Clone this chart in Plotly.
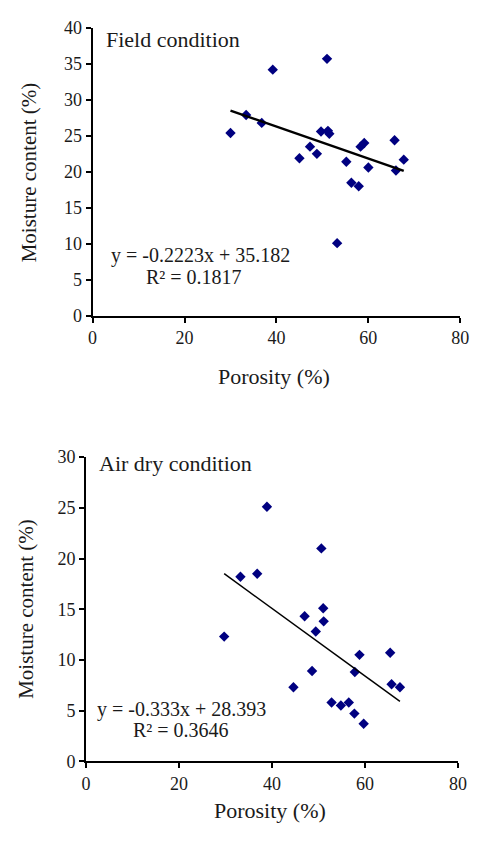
import plotly.graph_objects as go

# ---------------- data ----------------
field_porosity = [30.0, 33.4, 36.8, 39.2, 45.0, 47.3, 48.8, 49.7, 51.0, 51.2, 51.5,
                  53.2, 55.2, 56.3, 57.9, 58.3, 59.1, 60.0, 65.7, 66.0, 67.7]
field_moisture = [25.4, 27.9, 26.8, 34.2, 21.9, 23.5, 22.5, 25.6, 35.7, 25.7, 25.3,
                  10.1, 21.4, 18.5, 18.0, 23.5, 24.0, 20.6, 24.4, 20.2, 21.7]
field_slope, field_intercept = -0.2223, 35.182
field_eq = "y = -0.2223x + 35.182"
field_r2 = "R\u00b2 = 0.1817"

air_porosity = [29.7, 33.2, 36.8, 38.9, 44.6, 47.0, 48.6, 49.4, 50.6, 51.0, 51.1,
                52.8, 54.8, 56.5, 57.8, 57.7, 58.8, 59.7, 65.4, 65.7, 67.5]
air_moisture = [12.3, 18.2, 18.5, 25.1, 7.3, 14.3, 8.9, 12.8, 21.0, 15.1, 13.8,
                5.8, 5.5, 5.8, 8.8, 4.7, 10.5, 3.7, 10.7, 7.6, 7.3]
air_slope, air_intercept = -0.333, 28.393
air_eq = "y = -0.333x + 28.393"
air_r2 = "R\u00b2 = 0.3646"

x_ticks = [0, 20, 40, 60, 80]
field_y_ticks = [0, 5, 10, 15, 20, 25, 30, 35, 40]
air_y_ticks = [0, 5, 10, 15, 20, 25, 30]

x_title = "Porosity (%)"
y_title = "Moisture content (%)"
field_label = "Field condition"
air_label = "Air dry condition"

# ---------------- figure ----------------
W, H = 479, 844
FONT = "Liberation Serif"
TXT = "#1a1a1a"
NAVY = "#000080"


def px(x):
    return x / W


def py(y):
    return 1 - y / H


def fit_line(xs, slope, intercept):
    x0, x1 = min(xs), max(xs)
    return [x0, x1], [slope * x0 + intercept, slope * x1 + intercept]


fig = go.Figure()

fig.add_trace(go.Scatter(x=field_porosity, y=field_moisture, mode="markers",
                         marker=dict(symbol="diamond", size=8, color=NAVY),
                         xaxis="x", yaxis="y", showlegend=False))
lx, ly = fit_line(field_porosity, field_slope, field_intercept)
fig.add_trace(go.Scatter(x=lx, y=ly, mode="lines", line=dict(color="black", width=2.5),
                         xaxis="x", yaxis="y", showlegend=False))

fig.add_trace(go.Scatter(x=air_porosity, y=air_moisture, mode="markers",
                         marker=dict(symbol="diamond", size=8, color=NAVY),
                         xaxis="x2", yaxis="y2", showlegend=False))
lx, ly = fit_line(air_porosity, air_slope, air_intercept)
fig.add_trace(go.Scatter(x=lx, y=ly, mode="lines", line=dict(color="black", width=1.5),
                         xaxis="x2", yaxis="y2", showlegend=False))

axis_common = dict(showline=True, linecolor="black", linewidth=2, showgrid=False,
                   zeroline=False, ticks="outside", ticklen=5, tickwidth=2,
                   tickcolor="black", tickfont=dict(family=FONT, size=18, color=TXT),
                   fixedrange=True)

fig.update_layout(
    width=W, height=H,
    margin=dict(l=0, r=0, t=0, b=0),
    paper_bgcolor="white", plot_bgcolor="white",
    font=dict(family=FONT, color=TXT),
    xaxis=dict(domain=[px(90.25), px(469)], range=[0, 80], tickvals=x_ticks,
               anchor="y", **axis_common),
    yaxis=dict(domain=[py(313.3), py(18.3)], range=[0, 40], tickvals=field_y_ticks,
               anchor="x", **axis_common),
    xaxis2=dict(domain=[px(83.5), px(466.7)], range=[0, 80], tickvals=x_ticks,
                anchor="y2", **axis_common),
    yaxis2=dict(domain=[py(769.5), py(458)], range=[0, 30], tickvals=air_y_ticks,
                anchor="x2", **axis_common),
)


def ann(text, x, y, size, xanchor="left", angle=0):
    fig.add_annotation(text=text, x=px(x), y=py(y), xref="paper", yref="paper",
                       xanchor=xanchor, yanchor="middle", showarrow=False,
                       textangle=angle, font=dict(family=FONT, size=size, color=TXT))


# top panel texts
ann(field_label, 101.7, 30, 22)
ann(field_eq, 106.7, 251.7, 20)
ann(field_r2, 143.3, 273.3, 20)
ann(x_title, 276.7, 375, 22, xanchor="center")
ann(y_title, 25, 166, 21, xanchor="center", angle=-90)

# bottom panel texts
ann(air_label, 95, 465, 22)
ann(air_eq, 92.5, 716, 20)
ann(air_r2, 130, 737, 20)
ann(x_title, 273, 820, 22, xanchor="center")
ann(y_title, 22, 613, 21, xanchor="center", angle=-90)

fig.write_html("out.html")
